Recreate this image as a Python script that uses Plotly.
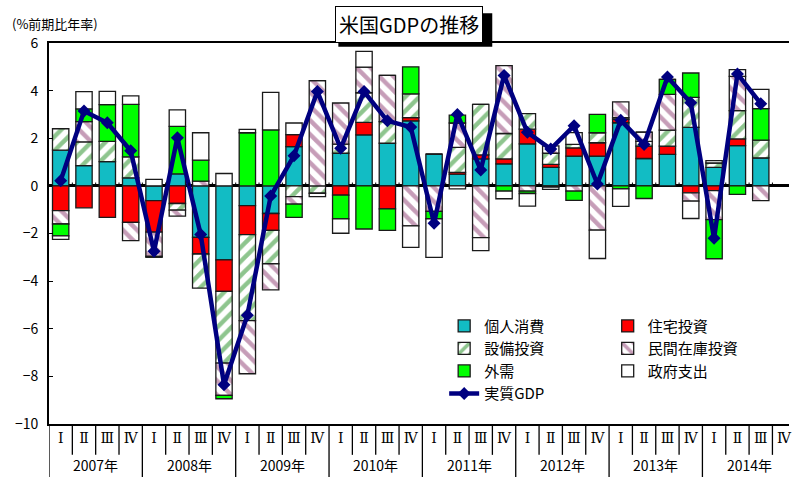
import plotly.graph_objects as go

years = ["2007年", "2008年", "2009年", "2010年", "2011年", "2012年", "2013年", "2014年"]
quarter_labels = ["Ⅰ", "Ⅱ", "Ⅲ", "Ⅳ"]

consumption = [1.5, 0.85, 1.02, 0.34, -0.62, 0.5, -2.16, -3.11, -0.83, -1.16, 1.65, 0.0,
               1.37, 2.14, 1.79, 2.73, 1.33, 0.49, 1.13, 0.92, 1.76, 0.78, 1.25, 1.25,
               2.65, 1.15, 1.32, 2.46, 0.78, 1.69, 1.18, None]
residential = [-1.04, -0.92, -1.32, -1.53, -1.32, -0.74, -0.7, -1.32, -1.22, -0.71, 0.5, 0.0,
               -0.39, 0.53, -0.97, 0.14, 0.0, 0.08, 0.17, 0.21, 0.62, 0.12, 0.35, 0.56,
               0.14, 0.52, 0.35, -0.29, -0.2, 0.28, 0.0, None]
equipment = [0.9, 1.0, 0.85, 0.88, 0.0, -0.28, -1.43, -3.01, -3.61, -1.4, -0.45, -0.31,
             0.38, 1.24, 0.91, 0.99, 0.0, 1.05, 2.12, 1.07, 0.65, 0.47, 0.14, 0.42,
             0.07, 0.2, 0.67, 1.26, 0.18, 1.19, 0.74, None]
inventory = [-0.56, 0.85, 0.0, -0.77, -1.02, -0.25, 0.2, -1.36, -2.23, -1.1, -0.32, 4.42,
             1.73, 1.08, 1.94, -1.68, -1.07, 1.02, -2.17, 2.85, -0.22, 0.31, -0.22, -1.86,
             0.67, 0.39, 1.5, -0.35, -1.22, 1.44, -0.62, None]
net_exports = [-0.5, 0.53, 1.54, 2.2, -0.04, 2.0, 0.88, -0.14, 2.23, 2.35, -0.55, 0.0,
               -1.0, -1.81, -0.9, 1.14, -0.31, 0.33, 0.0, -0.22, -0.1, -0.05, -0.39, 0.77,
               -0.13, -0.53, 0.63, 1.02, -1.64, -0.36, 1.32, None]
government = [-0.15, 0.73, 0.56, 0.36, 0.27, 0.69, 1.15, 0.52, 0.14, 1.58, 0.49, -0.14,
              -0.6, 0.66, 0.0, -0.9, -1.62, -0.13, -0.55, -0.32, -0.53, -0.1, 0.5, -1.19,
              -0.73, 0.0, 0.0, -0.73, 0.1, 0.28, 0.81, None]
real_gdp = [0.22, 3.14, 2.65, 1.47, -2.75, 2.02, -2.04, -8.35, -5.43, -0.43, 1.27, 3.96,
            1.58, 3.96, 2.73, 2.47, -1.57, 3.0, 0.67, 4.64, 2.25, 1.55, 2.53, 0.08,
            2.76, 1.74, 4.57, 3.49, -2.2, 4.7, 3.45, None]

n = len(years) * 4
xs = list(range(n))
ticktext = [quarter_labels[i % 4] for i in xs]

FONT = "Noto Sans CJK JP"
outline = dict(color="#1a1a1a", width=1.3)

fig = go.Figure()

def add_bar(name, vals, color, legend, pattern=None):
    marker = dict(color=color, line=outline)
    if pattern:
        marker["pattern"] = pattern
    fig.add_trace(go.Bar(x=xs, y=vals, name=name, marker=marker, legend=legend))

add_bar("個人消費", consumption, "#12BCC4", "legend")
add_bar("住宅投資", residential, "#FF0000", "legend2")
add_bar("設備投資", equipment, "#FFFFFF", "legend",
        dict(shape="/", fgcolor="#1E8C1E", bgcolor="#FFFFFF", size=10, solidity=0.45))
add_bar("民間在庫投資", inventory, "#FFFFFF", "legend2",
        dict(shape="\\", fgcolor="#8E3C72", bgcolor="#FFFFFF", size=10, solidity=0.45))
add_bar("外需", net_exports, "#00FF00", "legend")
add_bar("政府支出", government, "#FFFFFF", "legend2")

fig.add_trace(go.Scatter(x=xs, y=real_gdp, name="実質GDP", mode="lines+markers",
                         line=dict(color="#000080", width=4.5),
                         marker=dict(symbol="diamond", size=10, color="#000080"),
                         legend="legend"))

shapes = []
# small tick marks on the zero line at quarter boundaries
for k in range(n):
    shapes.append(dict(type="line", xref="x", yref="y", x0=k + 0.5, x1=k + 0.5,
                       y0=0, y1=0.14, line=dict(color="black", width=1)))
# separators in the category table below the axis
for k in range(-1, n):
    is_year = (k + 1) % 4 == 0
    shapes.append(dict(type="line", xref="x", yref="paper", x0=k + 0.5, x1=k + 0.5,
                       y0=0, y1=-0.15 if is_year else -0.081,
                       line=dict(color="black", width=1.3)))
# title shadow
shapes.append(dict(type="rect", xref="paper", yref="paper", x0=0.391, x1=0.599,
                   y0=0.99, y1=1.078, fillcolor="black", line=dict(width=0), layer="above"))

annotations = []
for i, yr in enumerate(years):
    annotations.append(dict(x=4 * i + 1.5, y=-0.107, xref="x", yref="paper", text=yr,
                            yanchor="middle", showarrow=False,
                            font=dict(size=14, color="black", family=FONT)))
annotations.append(dict(x=0.487, y=1.048, xref="paper", yref="paper", text="米国GDPの推移",
                        xanchor="center", yanchor="middle", showarrow=False,
                        font=dict(size=20, color="black", family=FONT),
                        bgcolor="white", bordercolor="black", borderwidth=1, borderpad=3))
annotations.append(dict(x=-0.053, y=1.052, xref="paper", yref="paper", xanchor="left",
                        yanchor="middle", text="(%前期比年率)", showarrow=False,
                        font=dict(size=13, color="black", family=FONT)))

fig.update_layout(
    width=792, height=477,
    margin=dict(l=49, r=0, t=43, b=53),
    paper_bgcolor="white", plot_bgcolor="white",
    barmode="relative", bargap=0.3,
    font=dict(family=FONT, color="black"),
    shapes=shapes, annotations=annotations,
    legend=dict(x=0.534, y=0.30, xanchor="left", yanchor="top", traceorder="normal",
                font=dict(size=15, family=FONT), bgcolor="rgba(0,0,0,0)", tracegroupgap=0),
    legend2=dict(x=0.755, y=0.30, xanchor="left", yanchor="top", traceorder="normal",
                 font=dict(size=15, family=FONT), bgcolor="rgba(0,0,0,0)", tracegroupgap=0),
    xaxis=dict(range=[-0.5, 31.21], tickvals=xs, ticktext=ticktext, ticks="",
               showgrid=False, zeroline=False, showline=True, mirror=True,
               linecolor="black", linewidth=2, ticklabeloverflow="allow",
               tickfont=dict(size=14, family="DejaVu Serif, " + FONT)),
    yaxis=dict(range=[-10, 6], dtick=2, ticks="inside", ticklen=4, tickwidth=1.3,
               tickcolor="black", showgrid=False, zeroline=True, zerolinecolor="black",
               zerolinewidth=2.5, showline=True, linecolor="black", linewidth=2,
               tickfont=dict(size=14, family=FONT), ticklabelstandoff=6),
)

fig.write_html("out.html")
